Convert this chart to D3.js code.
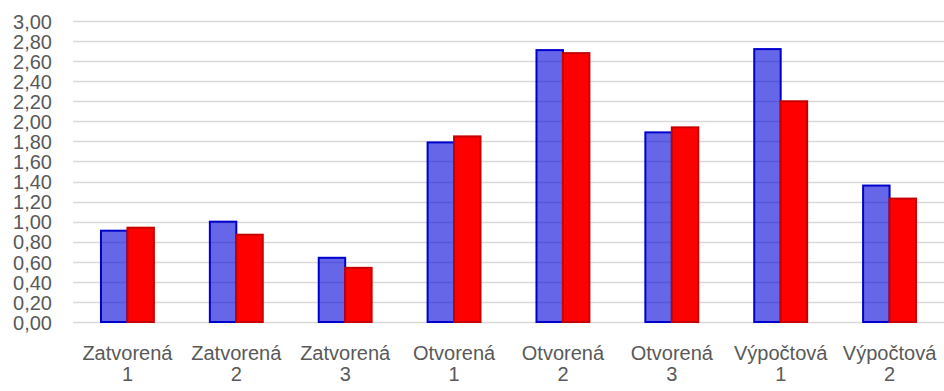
<!DOCTYPE html>
<html>
<head>
<meta charset="utf-8">
<script src="https://cdn.jsdelivr.net/npm/d3@7"></script>
<style>
  html, body { margin: 0; padding: 0; background: #fff; }
  svg { display: block; }
  text { font-family: "Liberation Sans", Arial, sans-serif; fill: #595959; }
</style>
</head>
<body>
<svg id="chart" width="944" height="391"></svg>
<script>
// Category labels (two lines each)
const categories = [
  ["Zatvorená", "1"], ["Zatvorená", "2"], ["Zatvorená", "3"],
  ["Otvorená", "1"], ["Otvorená", "2"], ["Otvorená", "3"],
  ["Výpočtová", "1"], ["Výpočtová", "2"]
];
// Series values
const seriesBlue = [0.91, 1.00, 0.64, 1.79, 2.71, 1.89, 2.72, 1.36];
const seriesRed  = [0.94, 0.87, 0.54, 1.85, 2.68, 1.94, 2.20, 1.23];
// Y axis ticks
const yTicks = [0, 0.2, 0.4, 0.6, 0.8, 1.0, 1.2, 1.4, 1.6, 1.8, 2.0, 2.2, 2.4, 2.6, 2.8, 3.0];

const seriesKeys = ["blue", "red"];
const seriesStyle = {
  blue: { fill: "#0000d8", fillOpacity: 0.6, stroke: "#0000cc" },
  red:  { fill: "#ff0000", fillOpacity: 1, stroke: "#c80000" }
};

const svg = d3.select("#chart");
const plot = { left: 73, right: 944, top: 21, bottom: 322 };

const x0 = d3.scaleBand()
  .domain(d3.range(categories.length))
  .range([plot.left, plot.right])
  .paddingInner(0.514)
  .paddingOuter(0.257);

const x1 = d3.scaleBand()
  .domain(seriesKeys)
  .range([0, x0.bandwidth()]);

const y = d3.scaleLinear().domain([0, 3]).range([plot.bottom, plot.top]);

const fmt = v => v.toFixed(2).replace(".", ",");

// Gridlines
svg.append("g")
  .selectAll("line")
  .data(yTicks)
  .join("line")
  .attr("x1", plot.left)
  .attr("x2", plot.right)
  .attr("y1", d => Math.round(y(d)) + 0.5)
  .attr("y2", d => Math.round(y(d)) + 0.5)
  .attr("stroke", "#d9d9d9")
  .attr("stroke-width", 1.5);

// Y axis labels
const yAxis = d3.axisLeft(y).tickValues(yTicks).tickFormat(fmt).tickSize(0).tickPadding(0);
const yg = svg.append("g").attr("transform", "translate(52,0)").call(yAxis);
yg.select(".domain").remove();
yg.selectAll("text")
  .attr("font-size", 20)
  .style("font-family", "'Liberation Sans', Arial, sans-serif")
  .attr("fill", "#595959")
  .attr("dy", "0.36em");

// Bars
const rows = categories.map((c, i) => ({ i, blue: seriesBlue[i], red: seriesRed[i] }));
const groups = svg.append("g")
  .selectAll("g")
  .data(rows)
  .join("g")
  .attr("transform", d => `translate(${x0(d.i)},0)`);

groups.selectAll("rect")
  .data(d => seriesKeys.map(k => ({ key: k, value: d[k] })))
  .join("rect")
  .attr("x", d => x1(d.key))
  .attr("y", d => y(d.value))
  .attr("width", x1.bandwidth())
  .attr("height", d => y(0) - y(d.value))
  .attr("fill", d => seriesStyle[d.key].fill)
  .attr("fill-opacity", d => seriesStyle[d.key].fillOpacity)
  .attr("stroke", d => seriesStyle[d.key].stroke)
  .attr("stroke-width", 2);

// X axis labels
const xg = svg.append("g");
categories.forEach((lines, i) => {
  const t = xg.append("text")
    .attr("x", x0(i) + x0.bandwidth() / 2)
    .attr("y", 360)
    .attr("text-anchor", "middle")
    .attr("font-size", 20);
  lines.forEach((ln, j) => {
    t.append("tspan")
      .attr("x", x0(i) + x0.bandwidth() / 2)
      .attr("dy", j === 0 ? 0 : 20.5)
      .text(ln);
  });
});
</script>
</body>
</html>
